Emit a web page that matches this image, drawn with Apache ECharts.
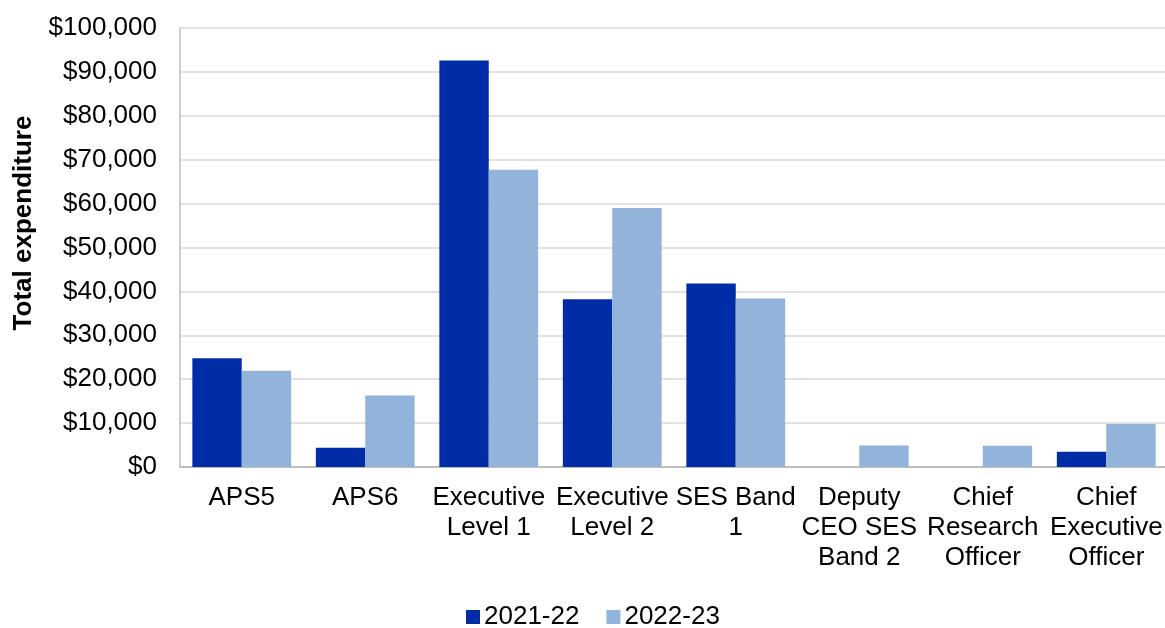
<!DOCTYPE html>
<html>
<head>
<meta charset="utf-8">
<script src="https://cdn.jsdelivr.net/npm/echarts@6/dist/echarts.min.js"></script>
<style>
  html, body { margin: 0; padding: 0; background: #fff; }
  #chart { width: 1165px; height: 628px; }
</style>
</head>
<body>
<div id="chart"></div>
<script>
// 数据
const categories = [
  'APS5',
  'APS6',
  'Executive\nLevel 1',
  'Executive\nLevel 2',
  'SES Band\n1',
  'Deputy\nCEO SES\nBand 2',
  'Chief\nResearch\nOfficer',
  'Chief\nExecutive\nOfficer'
];
const seriesNames = ['2021-22', '2022-23'];
const values2122 = [24800, 4400, 92600, 38200, 41800, 0, 0, 3500];
const values2223 = [21900, 16300, 67700, 59000, 38400, 4900, 4850, 9800];
const yTicks = { min: 0, max: 100000, interval: 10000 };

const font = "'Liberation Sans', Arial, sans-serif";
const chart = echarts.init(document.getElementById('chart'));

chart.setOption({
  animation: false,
  color: ['#002CA8', '#92B3DA'],
  textStyle: { fontFamily: font, color: '#000' },
  grid: {
    left: 180,
    top: 28,
    width: 988,
    height: 439,
    outerBoundsMode: 'none'
  },
  legend: {
    left: 461,
    top: 599,
    itemWidth: 14,
    itemHeight: 14,
    itemGap: 27,
    icon: 'rect',
    textStyle: { fontFamily: font, fontSize: 26, color: '#000', padding: [0, 0, 0, -1] },
    data: seriesNames
  },
  graphic: [{
    type: 'text',
    x: 24,
    y: 223,
    rotation: Math.PI / 2,
    style: {
      text: 'Total expenditure',
      font: 'bold 26px ' + font,
      fill: '#000',
      textAlign: 'center',
      textVerticalAlign: 'middle'
    }
  }],
  xAxis: {
    type: 'category',
    data: categories,
    axisTick: { show: false },
    axisLine: { lineStyle: { color: '#B3B3B3', width: 1.5 } },
    axisLabel: {
      interval: 0,
      margin: 16,
      fontSize: 26,
      lineHeight: 30,
      color: '#000',
      fontFamily: font
    }
  },
  yAxis: {
    type: 'value',
    min: yTicks.min,
    max: yTicks.max,
    interval: yTicks.interval,
    axisLine: { show: true, lineStyle: { color: '#BFBFBF', width: 1.5 } },
    axisTick: { show: false },
    splitLine: { lineStyle: { color: '#D9D9D9', width: 1.5 } },
    axisLabel: {
      margin: 23,
      fontSize: 26,
      color: '#000',
      fontFamily: font,
      formatter: v => '$' + v.toLocaleString('en-US')
    }
  },
  series: [
    {
      name: seriesNames[0],
      type: 'bar',
      data: values2122,
      barGap: '0%',
      barCategoryGap: '20%'
    },
    {
      name: seriesNames[1],
      type: 'bar',
      data: values2223,
      barGap: '0%',
      barCategoryGap: '20%'
    }
  ]
});
</script>
</body>
</html>
